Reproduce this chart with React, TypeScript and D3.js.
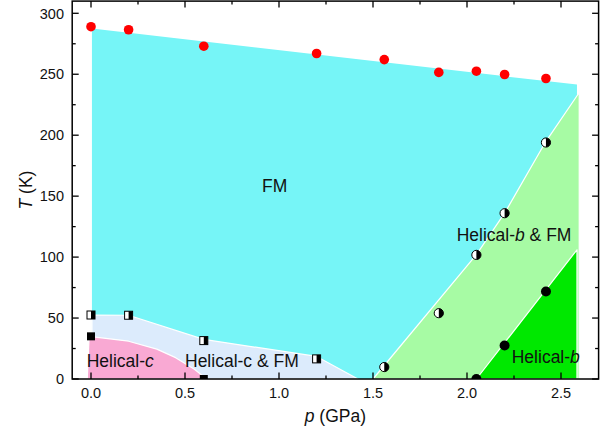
import React from "react";
import * as d3 from "d3";

// ---- data ----
const tcP = [0.0, 0.2, 0.6, 1.2, 1.56, 1.85, 2.05, 2.2, 2.42];
const tcT = [289, 286.5, 273, 267, 262, 251.5, 252.5, 249.8, 246.5];

const halfSqP = [0.0, 0.2, 0.6, 1.2];
const halfSqT = [52.5, 52.3, 31.5, 16.5];

const fullSqP = [0.0, 0.6];
const fullSqT = [35, 0];

const halfCircP = [1.56, 1.85, 2.05, 2.2, 2.42];
const halfCircT = [9.8, 54, 101.8, 136, 194];

const fullCircP = [2.05, 2.2, 2.42];
const fullCircT = [0, 27.5, 71.8];

// phase region boundaries [p, T]
const regionFM: [number, number][] = [[0.005, 287.5], [2.585, 241.5], [2.585, 0], [0.005, 0]];
const regionHcFM: [number, number][] = [[0.005, 0], [0.005, 52.5], [0.2, 52.3], [0.6, 32.5], [1.2, 18.5], [1.42, 0]];
const regionHc: [number, number][] = [[-0.02, 0], [-0.01, 35], [0.2, 31], [0.35, 24.5], [0.45, 17.5], [0.55, 8], [0.615, 0]];
const regionHbFM: [number, number][] = [[1.5, 0], [2.05, 102], [2.2, 136], [2.42, 195], [2.597, 235], [2.597, 0]];
const regionHb: [number, number][] = [[2.05, 0], [2.585, 106], [2.585, 0]];

const regionColors = ["#76F5F7", "#DCEBFC", "#F9A9D3", "#A7FBA4", "#00E800"];

const xMajor = [0, 0.5, 1.0, 1.5, 2.0, 2.5];
const xMinor = [0.25, 0.75, 1.25, 1.75, 2.25];
const yMajor = [0, 50, 100, 150, 200, 250, 300];
const yMinor = [25, 75, 125, 175, 225, 275];

const W = 608;
const H = 433;
const FONT = "'Liberation Sans', Arial, Helvetica, sans-serif";

export default function App() {
  const x = d3.scaleLinear().domain([-0.1, 2.7]).range([72.2, 598.6]);
  const y = d3.scaleLinear().domain([0, 310]).range([379, 1.1]);
  const left = x(-0.1), right = x(2.7), top = y(310), bottom = y(0);

  const area = d3.line<[number, number]>().x(d => x(d[0])).y(d => y(d[1]));
  const regions = [regionFM, regionHcFM, regionHc, regionHbFM, regionHb];

  const majLen = 6.5, minLen = 3.5;
  const sq = 8, r = 4.8;

  const halfCirclePath = (cx: number, cy: number, rr: number) =>
    `M${cx},${cy - rr} A${rr},${rr} 0 0 1 ${cx},${cy + rr} Z`;

  return (
    <svg width={W} height={H} style={{ position: "absolute", left: 0, top: 0, background: "#fff" }}
      fontFamily={FONT}>
      <defs>
        <clipPath id="plotClip">
          <rect x={left} y={top} width={right - left} height={bottom - top} />
        </clipPath>
      </defs>
      <g>
        {regions.map((reg, i) => (
          <path key={i} d={area(reg) + "Z"} fill={regionColors[i]}
            stroke={i === 0 ? "none" : "#fff"} strokeWidth={1.2} strokeLinejoin="round" />
        ))}
      </g>

      {/* labels */}
      <g fontSize={17.5} fill="#111">
        <text x={x(0.977)} y={y(153.6)} textAnchor="middle">FM</text>
        <text x={x(1.945)} y={y(113.4)}>Helical-<tspan fontStyle="italic">b</tspan> &amp; FM</text>
        <text x={x(2.238)} y={y(12.9)}>Helical-<tspan fontStyle="italic">b</tspan></text>
        <text x={x(-0.023)} y={y(10)}>Helical-<tspan fontStyle="italic">c</tspan></text>
        <text x={x(0.5)} y={y(10)}>Helical-c &amp; FM</text>
      </g>

      <g clipPath="url(#plotClip)">
        {tcP.map((p, i) => (
          <circle key={"tc" + i} cx={x(p)} cy={y(tcT[i])} r={r} fill="#FF0000" />
        ))}
        {halfSqP.map((p, i) => {
          const cx = x(p), cy = y(halfSqT[i]);
          return (
            <g key={"hs" + i}>
              <rect x={cx - sq / 2} y={cy - sq / 2} width={sq} height={sq} fill="#fff" />
              <rect x={cx} y={cy - sq / 2} width={sq / 2} height={sq} fill="#000" />
              <rect x={cx - sq / 2} y={cy - sq / 2} width={sq} height={sq} fill="none" stroke="#000" strokeWidth={1} />
            </g>
          );
        })}
        {fullSqP.map((p, i) => {
          const cx = x(p), cy = y(fullSqT[i]);
          return <rect key={"fs" + i} x={cx - sq / 2} y={cy - sq / 2} width={sq} height={sq} fill="#000" />;
        })}
        {halfCircP.map((p, i) => {
          const cx = x(p), cy = y(halfCircT[i]);
          return (
            <g key={"hc" + i}>
              <circle cx={cx} cy={cy} r={4.6} fill="#fff" />
              <path d={halfCirclePath(cx, cy, 4.6)} fill="#000" />
              <circle cx={cx} cy={cy} r={4.6} fill="none" stroke="#000" strokeWidth={1} />
            </g>
          );
        })}
        {fullCircP.map((p, i) => (
          <circle key={"fc" + i} cx={x(p)} cy={y(fullCircT[i])} r={5} fill="#000" />
        ))}
      </g>

      {/* frame */}
      <rect x={left} y={top} width={right - left} height={bottom - top} fill="none" stroke="#000" strokeWidth={1.5} />

      {/* ticks */}
      <g stroke="#000" strokeWidth={1.3}>
        {xMajor.map(v => (
          <g key={"xM" + v}>
            <line x1={x(v)} x2={x(v)} y1={bottom} y2={bottom - majLen} />
            <line x1={x(v)} x2={x(v)} y1={top} y2={top + majLen} />
          </g>
        ))}
        {xMinor.map(v => (
          <g key={"xm" + v}>
            <line x1={x(v)} x2={x(v)} y1={bottom} y2={bottom - minLen} />
            <line x1={x(v)} x2={x(v)} y1={top} y2={top + minLen} />
          </g>
        ))}
        {yMajor.map(v => (
          <g key={"yM" + v}>
            <line x1={left} x2={left + majLen} y1={y(v)} y2={y(v)} />
            <line x1={right} x2={right - majLen} y1={y(v)} y2={y(v)} />
          </g>
        ))}
        {yMinor.map(v => (
          <g key={"ym" + v}>
            <line x1={left} x2={left + minLen} y1={y(v)} y2={y(v)} />
            <line x1={right} x2={right - minLen} y1={y(v)} y2={y(v)} />
          </g>
        ))}
      </g>

      {/* tick labels */}
      <g fontSize={14.5} fill="#111">
        {xMajor.map(v => (
          <text key={"xl" + v} x={x(v)} y={398} textAnchor="middle">{d3.format(".1f")(v)}</text>
        ))}
        {yMajor.map(v => (
          <text key={"yl" + v} x={64} y={y(v)} dy="0.36em" textAnchor="end">{v}</text>
        ))}
      </g>

      {/* axis titles */}
      <text x={(left + right) / 2} y={422} textAnchor="middle" fontSize={17.5} fill="#111">
        <tspan fontStyle="italic">p</tspan> (GPa)
      </text>
      <text transform={`translate(32,${(top + bottom) / 2}) rotate(-90)`} textAnchor="middle" fontSize={17.5} fill="#111">
        <tspan fontStyle="italic">T</tspan> (K)
      </text>
    </svg>
  );
}
